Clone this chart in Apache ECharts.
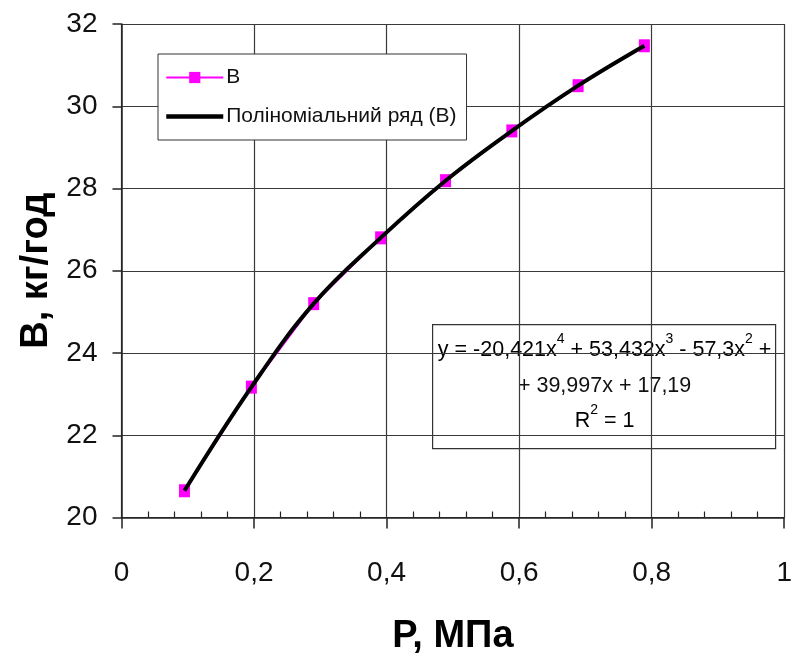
<!DOCTYPE html>
<html>
<head>
<meta charset="utf-8">
<script src="https://cdn.jsdelivr.net/npm/echarts@6/dist/echarts.min.js"></script>
<style>
html,body{margin:0;padding:0;background:#fff;}
#chart{width:795px;height:662px;}
</style>
</head>
<body>
<div id="chart"></div>
<script>
// Data
var pressure = [0.095, 0.196, 0.290, 0.391, 0.489, 0.589, 0.689, 0.789];
var flowB = [20.65, 23.17, 25.20, 26.80, 28.19, 29.40, 30.50, 31.47];
var xTicks = [0, 0.2, 0.4, 0.6, 0.8, 1];
var yTicks = [20, 22, 24, 26, 28, 30, 32];
var seriesName = 'В';
var trendName = 'Поліноміальний ряд (В)';
var xTitle = 'Р, МПа';
var yTitle = 'В, кг/год';
var eqLine1 = ['y = -20,421x', '4', ' + 53,432x', '3', ' - 57,3x', '2', ' +'];
var eqLine2 = '+ 39,997x + 17,19';
var eqLine3 = ['R', '2', ' = 1'];

var SANS = '"Liberation Sans", Arial, sans-serif';

var pts = pressure.map(function (p, i) { return [p, flowB[i]]; });

function richLine(parts) {
  return parts.map(function (t, i) { return (i % 2 === 0 ? '{n|' : '{s|') + t + '}'; }).join('');
}
var richStyles = {
  n: { fontSize: 21.5, fontFamily: SANS, color: '#111', lineHeight: 34 },
  s: { fontSize: 14, fontFamily: SANS, color: '#111', lineHeight: 19, verticalAlign: 'top' }
};

var chart = echarts.init(document.getElementById('chart'), null, { renderer: 'canvas' });
var gridColor = '#3a3a3a';
chart.setOption({
  animation: false,
  backgroundColor: '#fff',
  grid: { left: 121.5, right: 6, top: 24, bottom: 144.5, containLabel: false },
  legend: {
    orient: 'vertical',
    left: 158, top: 54,
    padding: [13, 10, 13, 6],
    itemGap: 18,
    itemWidth: 57, itemHeight: 14,
    backgroundColor: '#fff',
    borderColor: '#333', borderWidth: 1,
    textStyle: { fontSize: 21, fontFamily: SANS, color: '#111', padding: [0, 0, 0, -2] },
    data: [
      { name: seriesName, lineStyle: { width: 2 } },
      { name: trendName, itemStyle: { opacity: 0 }, lineStyle: { width: 4.5, color: '#000' } }
    ]
  },
  xAxis: [{
    type: 'value', min: xTicks[0], max: xTicks[xTicks.length - 1], interval: 0.2,
    name: xTitle, nameLocation: 'middle', nameGap: 100,
    nameTextStyle: { fontSize: 38, fontWeight: 'bold', fontFamily: SANS, color: '#000' },
    axisLine: { show: true, onZero: false, lineStyle: { color: '#222', width: 1.5 } },
    axisTick: { show: true, inside: false, length: 11, lineStyle: { color: '#222', width: 1.5 } },
    minorTick: { show: false },
    axisLabel: { fontSize: 28, fontFamily: SANS, color: '#111', margin: 42,
      formatter: function (v) { return String(+v.toFixed(1)).replace('.', ','); } },
    splitLine: { show: true, lineStyle: { color: gridColor, width: 1.2 } }
  }, {
    type: 'value', min: xTicks[0], max: xTicks[xTicks.length - 1], interval: 0.2,
    position: 'bottom',
    axisLine: { show: false },
    axisTick: { show: true, inside: true, length: 0 },
    minorTick: { show: true, splitNumber: 5, length: 6, lineStyle: { color: '#222', width: 1.2 } },
    axisLabel: { show: false },
    splitLine: { show: false }
  }],
  yAxis: {
    type: 'value', min: yTicks[0], max: yTicks[yTicks.length - 1], interval: 2,
    name: yTitle, nameLocation: 'middle', nameGap: 64, nameRotate: 90,
    nameTextStyle: { fontSize: 38, fontWeight: 'bold', fontFamily: SANS, color: '#000' },
    axisLine: { show: true, onZero: false, lineStyle: { color: '#222', width: 1.5 } },
    axisTick: { show: true, inside: false, length: 9, lineStyle: { color: '#222', width: 1.5 } },
    axisLabel: { fontSize: 28, fontFamily: SANS, color: '#111', margin: 24 },
    splitLine: { show: true, lineStyle: { color: gridColor, width: 1.2 } }
  },
  series: [{
    name: seriesName,
    type: 'line',
    data: pts,
    symbol: 'rect',
    symbolSize: [11, 13],
    color: '#ff00ff',
    itemStyle: { color: '#ff00ff' },
    lineStyle: { color: '#ff00ff', width: 2 },
    z: 2
  }, {
    name: trendName,
    type: 'line',
    data: pts,
    smooth: 0.4,
    symbol: 'none',
    color: '#000',
    lineStyle: { color: '#000', width: 4 },
    z: 3
  }],
  graphic: [{
    type: 'group',
    left: 432, top: 324,
    z: 100,
    children: [{
      type: 'rect',
      shape: { x: 0, y: 0, width: 343, height: 124 },
      style: { fill: '#fff', stroke: '#333', lineWidth: 1.2 }
    }, {
      type: 'text',
      x: 172, y: 25,
      style: { text: richLine(eqLine1), rich: richStyles, align: 'center', verticalAlign: 'middle' }
    }, {
      type: 'text',
      x: 172, y: 61,
      style: { text: eqLine2, fontSize: 21.5, fontFamily: SANS, fill: '#111', align: 'center', verticalAlign: 'middle' }
    }, {
      type: 'text',
      x: 172, y: 96,
      style: { text: richLine(eqLine3), rich: richStyles, align: 'center', verticalAlign: 'middle' }
    }]
  }]
});
</script>
</body>
</html>
